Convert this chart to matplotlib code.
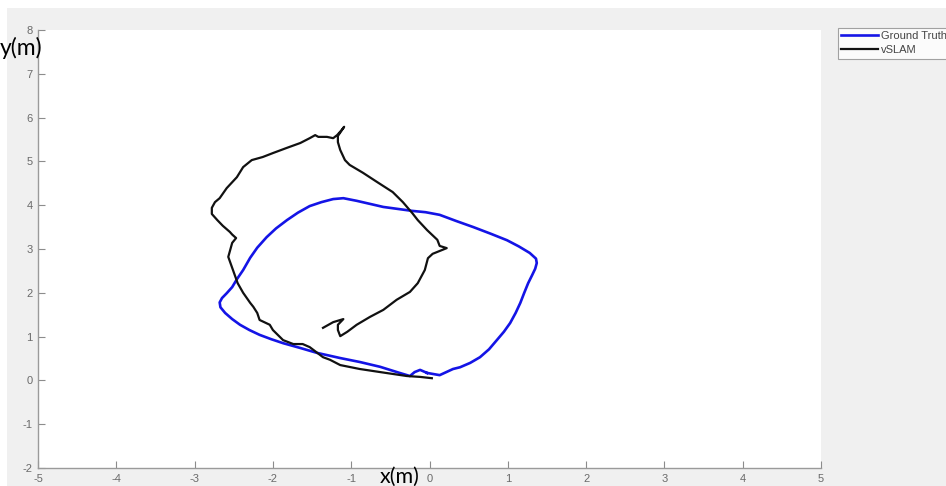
import numpy as np
import matplotlib.pyplot as plt
from matplotlib.patches import Rectangle

plt.rcParams['axes.unicode_minus'] = False
plt.rcParams['font.family'] = ['Liberation Sans', 'DejaVu Sans']

# ground truth trajectory (m)
gt_x = [-0.03, 0.13, 0.30, 0.39, 0.52, 0.645, 0.76, 0.86, 0.95, 1.03, 1.10, 1.16, 1.21, 1.26, 1.31, 1.35, 1.37, 1.36,
	1.28, 1.14, 0.99, 0.78, 0.56, 0.34, 0.13, -0.05, -0.22, -0.59, -0.93, -1.10, -1.23, -1.38, -1.53, -1.68, -1.82,
	-1.96, -2.08, -2.20, -2.29, -2.38, -2.46, -2.52, -2.59, -2.65, -2.68, -2.67, -2.61, -2.52, -2.42, -2.30, -2.17,
	-2.02, -1.87, -1.65, -1.44, -1.14, -0.89, -0.63, -0.38, -0.25, -0.19, -0.12, -0.03]
gt_y = [0.17, 0.12, 0.26, 0.30, 0.40, 0.53, 0.71, 0.92, 1.11, 1.31, 1.54, 1.77, 2.00, 2.22, 2.40, 2.55, 2.68, 2.78,
	2.91, 3.06, 3.20, 3.35, 3.50, 3.64, 3.78, 3.84, 3.87, 3.96, 4.10, 4.16, 4.14, 4.07, 3.98, 3.83, 3.66, 3.47, 3.27,
	3.03, 2.80, 2.52, 2.31, 2.13, 1.99, 1.88, 1.78, 1.67, 1.54, 1.40, 1.27, 1.15, 1.04, 0.94, 0.85, 0.74, 0.63, 0.51,
	0.42, 0.31, 0.17, 0.10, 0.19, 0.24, 0.17]

# vSLAM estimate (m)
slam_x = [0.03, -0.12, -0.29, -0.63, -0.89, -1.14, -1.27, -1.36, -1.53, -1.62, -1.74, -1.87, -2.00, -2.04, -2.17,
	-2.20, -2.25, -2.29, -2.38, -2.45, -2.51, -2.57, -2.52, -2.47, -2.52, -2.55, -2.64, -2.71, -2.78, -2.78, -2.74,
	-2.68, -2.59, -2.46, -2.38, -2.27, -2.13, -2.00, -1.82, -1.65, -1.53, -1.46, -1.42, -1.31, -1.23, -1.18, -1.12,
	-1.09, -1.17, -1.17, -1.14, -1.08, -1.02, -0.85, -0.67, -0.47, -0.34, -0.22, -0.15, -0.03, 0.10, 0.13, 0.22,
	0.04, -0.02, -0.06, -0.15, -0.25, -0.42, -0.59, -0.76, -0.93, -1.05, -1.14, -1.17, -1.17, -1.10, -1.23, -1.36]
slam_y = [0.05, 0.08, 0.10, 0.19, 0.26, 0.35, 0.47, 0.53, 0.76, 0.83, 0.83, 0.92, 1.15, 1.27, 1.38, 1.54, 1.68,
	1.77, 2.00, 2.22, 2.52, 2.82, 3.14, 3.25, 3.33, 3.39, 3.53, 3.66, 3.80, 3.94, 4.07, 4.16, 4.39, 4.64, 4.87, 5.03,
	5.10, 5.19, 5.31, 5.42, 5.53, 5.60, 5.56, 5.56, 5.53, 5.60, 5.72, 5.79, 5.58, 5.44, 5.26, 5.03, 4.92, 4.74, 4.53,
	4.30, 4.07, 3.82, 3.66, 3.43, 3.21, 3.07, 3.02, 2.89, 2.79, 2.52, 2.22, 2.02, 1.84, 1.61, 1.45, 1.27, 1.11, 1.01,
	1.15, 1.27, 1.40, 1.33, 1.20]

x_ticks = np.arange(-5, 6)
y_ticks = np.arange(-2, 9)

fig = plt.figure(figsize=(9.46, 4.86), dpi=100, facecolor='white')
# grey window background, leaving a thin white margin top and left
fig.patches.append(Rectangle((7 / 946, 0), 1, 1 - 8 / 486, transform=fig.transFigure,
	facecolor='#f0f0f0', edgecolor='none', zorder=-10))

ax = fig.add_axes([38 / 946, 1 - 468 / 486, 783 / 946, 438 / 486])
ax.set_facecolor('white')
ax.plot(gt_x, gt_y, color='#1414e6', linewidth=1.9, label='Ground Truth', solid_joinstyle='round')
ax.plot(slam_x, slam_y, color='#111111', linewidth=1.6, label='vSLAM', solid_joinstyle='round')

ax.set_xlim(-5, 5)
ax.set_ylim(-2, 8)
ax.set_xticks(x_ticks)
ax.set_yticks(y_ticks)
ax.tick_params(direction='in', length=5, width=0.8, colors='#8c8c8c', labelcolor='#6a6a6a', labelsize=8, pad=4)
for side in ['top', 'right']:
	ax.spines[side].set_visible(False)
for side in ['left', 'bottom']:
	ax.spines[side].set_color('#9a9a9a')
	ax.spines[side].set_linewidth(1.0)

leg = fig.legend(loc='upper left', bbox_to_anchor=(838 / 946, 1 - 28 / 486), fontsize=8, frameon=True,
	fancybox=False, handlelength=3.3, handletextpad=0.3, borderpad=0.3, labelspacing=0.35, borderaxespad=0)
leg.get_frame().set_edgecolor('#8c8c8c')
leg.get_frame().set_linewidth(0.8)
for t in leg.get_texts():
	t.set_color('#444444')

fig.text(0.0, 1 - 48 / 486, 'y(m)', fontsize=16.5, family='Lato', va='center', ha='left')
fig.text(400 / 946, 1 - 477 / 486, 'x(m)', fontsize=15.5, family='Lato', va='center', ha='center')

fig.savefig('out.png', dpi=100, facecolor=fig.get_facecolor())
